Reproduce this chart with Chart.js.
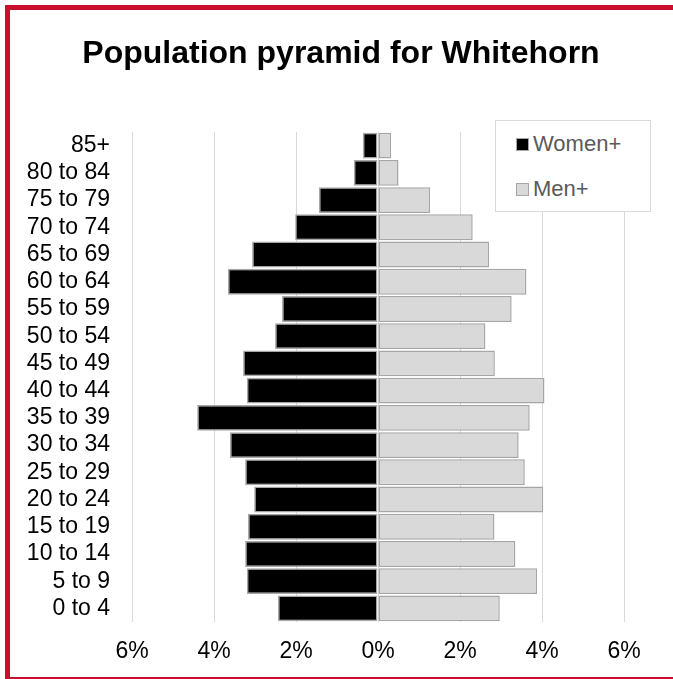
<!DOCTYPE html>
<html>
<head>
<meta charset="utf-8">
<script src="https://cdn.jsdelivr.net/npm/chart.js@4/dist/chart.umd.min.js"></script>
<style>
  html, body { margin: 0; padding: 0; background: #fff; }
  #wrap { position: relative; width: 673px; height: 679px; overflow: hidden; }
  #c { position: absolute; left: 0; top: 0; }
  #frame { position: absolute; left: 5px; top: 5px; width: 680px; height: 677px; border: 5.5px solid #C8102E; box-sizing: border-box; pointer-events: none; }
  #legend { position: absolute; left: 495px; top: 120px; width: 156px; height: 92px; box-sizing: border-box; border: 1px solid #d9d9d9; background: #fff; font-family: "Liberation Sans", Arial, sans-serif; font-size: 22px; color: #595959; }
  .item { position: absolute; left: 20px; display: flex; align-items: center; white-space: nowrap; }
  .sw { width: 11px; height: 11px; border: 1.5px solid #a6a6a6; margin-right: 4px; }
</style>
</head>
<body>
<div id="wrap">
  <canvas id="c" width="673" height="679"></canvas>
  <div id="legend"></div>
  <div id="frame"></div>
</div>
<script>
const titleText = "Population pyramid for Whitehorn";
const categories = ["85+", "80 to 84", "75 to 79", "70 to 74", "65 to 69", "60 to 64", "55 to 59", "50 to 54", "45 to 49", "40 to 44", "35 to 39", "30 to 34", "25 to 29", "20 to 24", "15 to 19", "10 to 14", "5 to 9", "0 to 4"];
const seriesNames = ["Women+", "Men+"];
const women = [0.37, 0.59, 1.44, 2.02, 3.07, 3.66, 2.34, 2.51, 3.29, 3.20, 4.41, 3.61, 3.24, 3.02, 3.17, 3.24, 3.20, 2.44];
const men = [0.32, 0.50, 1.27, 2.31, 2.71, 3.62, 3.26, 2.62, 2.85, 4.06, 3.70, 3.43, 3.58, 4.03, 2.84, 3.35, 3.88, 2.97];
const xTickValues = [-6, -4, -2, 0, 2, 4, 6];

const FONT = '"Liberation Sans", Arial, sans-serif';
const colors = ["#000000", "#d9d9d9"];

const titlePlugin = {
  id: 'fixedTitle',
  afterDraw(chart) {
    const c = chart.ctx;
    c.save();
    c.font = 'bold 32px ' + FONT;
    c.fillStyle = '#000';
    c.textAlign = 'center';
    c.textBaseline = 'alphabetic';
    c.fillText(titleText, 341, 63);
    c.restore();
  }
};

const ctx = document.getElementById('c').getContext('2d');
new Chart(ctx, {
  type: 'bar',
  data: {
    labels: categories,
    datasets: [
      { label: seriesNames[0], data: women.map(v => -v), backgroundColor: colors[0], borderColor: '#a6a6a6', borderWidth: 1.5, barPercentage: 0.95, categoryPercentage: 1.0, borderSkipped: false },
      { label: seriesNames[1], data: men, backgroundColor: colors[1], borderColor: '#a6a6a6', borderWidth: 1.5, barPercentage: 0.95, categoryPercentage: 1.0, borderSkipped: false }
    ]
  },
  plugins: [titlePlugin],
  options: {
    indexAxis: 'y',
    responsive: false,
    animation: false,
    layout: { padding: { left: 20, right: 49, top: 132, bottom: 0 } },
    plugins: {
      legend: { display: false },
      tooltip: { enabled: false },
      title: { display: false }
    },
    scales: {
      x: {
        stacked: true,
        min: -6, max: 6,
        afterBuildTicks: s => { s.ticks = xTickValues.map(v => ({ value: v })); },
        afterFit: s => { s.height = 57; },
        grid: { color: '#d9d9d9', lineWidth: 1, drawTicks: false },
        border: { display: false },
        ticks: { padding: 16, color: '#000', font: { family: FONT, size: 23 }, callback: v => Math.abs(v) + '%' }
      },
      y: {
        stacked: true,
        afterFit: s => { s.width = 112; },
        grid: { display: false, drawTicks: false },
        border: { display: false },
        ticks: { padding: 22, color: '#000', font: { family: FONT, size: 23 }, autoSkip: false }
      }
    }
  }
});

const lg = document.getElementById('legend');
seriesNames.forEach((n, i) => {
  const it = document.createElement('div');
  it.className = 'item';
  it.style.top = (i === 0 ? 10 : 55) + 'px';
  const sw = document.createElement('div');
  sw.className = 'sw';
  sw.style.background = colors[i];
  const t = document.createElement('span');
  t.textContent = n;
  it.appendChild(sw); it.appendChild(t);
  lg.appendChild(it);
});
</script>
</body>
</html>
